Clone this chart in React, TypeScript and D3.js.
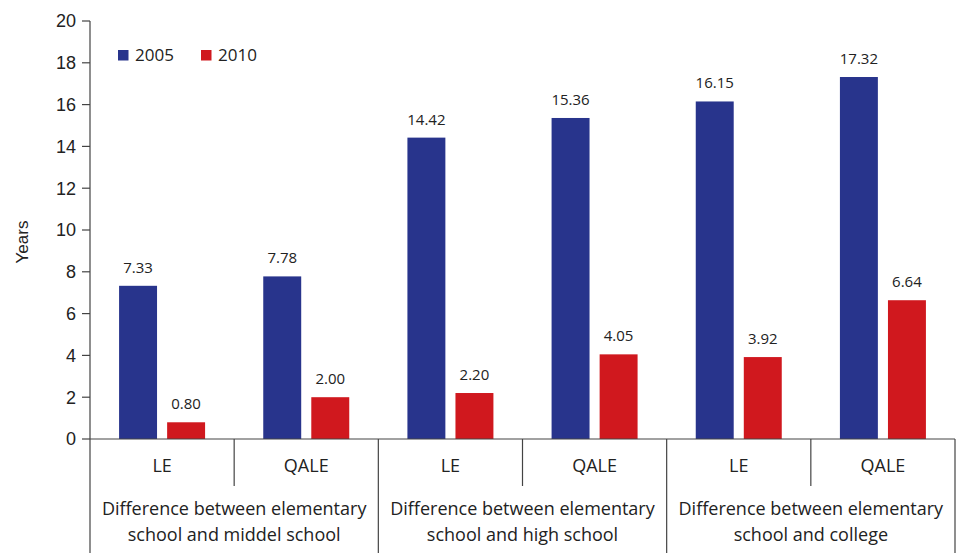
import React from "react";
import * as d3 from "d3";

const groups = [
  ["Difference between elementary", "school and middel school"],
  ["Difference between elementary", "school and high school"],
  ["Difference between elementary", "school and college"],
];
const subLabels = ["LE", "QALE", "LE", "QALE", "LE", "QALE"];
const series = ["2005", "2010"];
const values2005 = [7.33, 7.78, 14.42, 15.36, 16.15, 17.32];
const values2010 = [0.8, 2.0, 2.2, 4.05, 3.92, 6.64];
const yTicks = [0, 2, 4, 6, 8, 10, 12, 14, 16, 18, 20];
const colors = ["#28348c", "#d0181e"];

const W = 957, H = 553;
const left = 90, right = 955, top = 21, bottom = 439;

export default function App() {
  const y = d3.scaleLinear().domain([0, 20]).range([bottom, top]);
  const x = d3.scaleBand<number>().domain(d3.range(6)).range([left, right]).padding(0);
  const inner = d3.scaleBand<string>().domain(series).range([-43, 43]).paddingInner(0.21).paddingOuter(0);
  const sans = "'Open Sans', 'Noto Sans', sans-serif";
  const ax = "#444";
  const data = [values2005, values2010];
  const gW = (right - left) / 3;
  return (
    <svg width={W} height={H} style={{ position: "absolute", left: 0, top: 0, background: "#fff" }}>
      {/* y axis */}
      <line x1={left} x2={left} y1={top} y2={H} stroke={ax} strokeWidth={1.2} />
      {yTicks.map((t) => (
        <g key={t}>
          <line x1={left - 8} x2={left} y1={y(t)} y2={y(t)} stroke={ax} strokeWidth={1.2} />
          <text x={76} y={y(t)} dy="0.35em" textAnchor="end" fontFamily="'Liberation Sans', Arial, sans-serif" fontSize={18} fill="#222">{t}</text>
        </g>
      ))}
      <text transform={`translate(28,${(top + bottom) / 2 + 12}) rotate(-90)`} textAnchor="middle" fontFamily="'Liberation Sans', Arial, sans-serif" fontSize={17} fill="#222">Years</text>
      {/* bars */}
      {data.map((vals, si) =>
        vals.map((v, i) => {
          const cx = x(i)! + x.bandwidth() / 2;
          const bx = cx + inner(series[si])!;
          const bw = inner.bandwidth();
          return (
            <g key={`${si}-${i}`}>
              <rect x={bx} y={y(v)} width={bw} height={bottom - y(v)} fill={colors[si]} />
              <text x={bx + bw / 2} y={y(v) - 13} textAnchor="middle" fontFamily={sans} fontSize={15} fill="#222">{v.toFixed(2)}</text>
            </g>
          );
        })
      )}
      {/* x axis */}
      <line x1={left} x2={right} y1={bottom} y2={bottom} stroke={ax} strokeWidth={1.2} />
      <line x1={right} x2={right} y1={bottom} y2={H} stroke={ax} strokeWidth={1.2} />
      {d3.range(6).map((i) => (
        <g key={i}>
          {i % 2 === 1 && <line x1={x(i)} x2={x(i)} y1={bottom} y2={486} stroke={ax} strokeWidth={1.2} />}
          {i % 2 === 0 && i > 0 && <line x1={x(i)} x2={x(i)} y1={bottom} y2={H} stroke={ax} strokeWidth={1.2} />}
          <text x={x(i)! + x.bandwidth() / 2} y={466} dy="0.35em" textAnchor="middle" fontFamily={sans} fontSize={18} fill="#222">{subLabels[i]}</text>
        </g>
      ))}
      {groups.map((g, gi) => (
        <text key={gi} x={left + gW * gi + gW / 2} textAnchor="middle" fontFamily={sans} fontSize={18} fill="#222">
          <tspan x={left + gW * gi + gW / 2} y={509} dy="0.35em">{g[0]}</tspan>
          <tspan x={left + gW * gi + gW / 2} y={535} dy="0.35em">{g[1]}</tspan>
        </text>
      ))}
      {/* legend */}
      {series.map((s, si) => (
        <g key={s} transform={`translate(${118 + si * 83},50)`}>
          <rect x={0} y={0} width={10.5} height={10.5} fill={colors[si]} />
          <text x={17} y={5.5} dy="0.35em" fontFamily={sans} fontSize={17} fill="#222">{s}</text>
        </g>
      ))}
    </svg>
  );
}
